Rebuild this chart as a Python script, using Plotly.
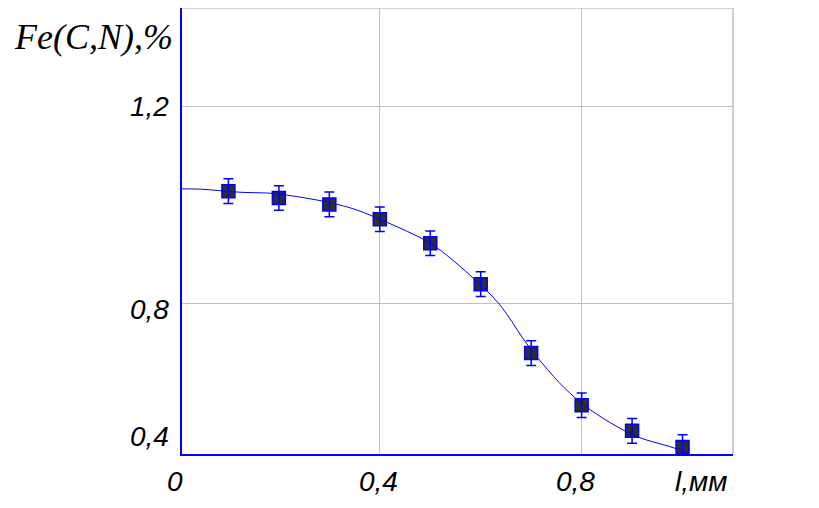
import plotly.graph_objects as go

# measured points
depth = [0.1, 0.2, 0.3, 0.4, 0.5, 0.6, 0.7, 0.8, 0.9, 1.0]
fe_cn = [1.029, 1.015, 1.002, 0.972, 0.923, 0.840, 0.700, 0.594, 0.542, 0.509]
err = [0.025, 0.025, 0.025, 0.025, 0.025, 0.025, 0.025, 0.025, 0.025, 0.025]

# fitted curve
curve_x = [0.0, 0.044, 0.123, 0.182, 0.208, 0.248, 0.301, 0.354, 0.406, 0.455,
           0.505, 0.578, 0.638, 0.683, 0.711, 0.756, 0.796, 0.842, 0.909, 0.974, 1.014]
curve_y = [1.0335, 1.033, 1.0268, 1.0248, 1.0219, 1.0158, 1.0057, 0.9909, 0.9691, 0.947,
           0.9198, 0.8589, 0.798, 0.731, 0.693, 0.6396, 0.6016, 0.5679, 0.5306, 0.5103, 0.4968]

x_tick_text = ["0", "0,4", "0,8", "l,мм"]
y_tick_text = ["0,4", "0,8", "1,2"]
y_title = "Fe(C,N),%"

BLUE = "#0000ff"
GRID = "#c0c0c0"
TICKFONT = dict(family="Liberation Sans, Arial, sans-serif", size=28, color="black", style="italic")

# the page has an 8 px body margin; offsets below are in page pixels
OFF = 8
FW, FH = 819 - OFF, 508 - OFF

fig = go.Figure()
fig.add_trace(go.Scatter(
    x=depth, y=fe_cn, mode="markers",
    marker=dict(symbol="square", size=13, color="#2e2e2e", line=dict(color=BLUE, width=1.5)),
    showlegend=False, cliponaxis=True))
fig.add_trace(go.Scatter(
    x=curve_x, y=curve_y, mode="lines", line=dict(color=BLUE, width=1, shape="spline"),
    showlegend=False))
fig.add_trace(go.Scatter(
    x=depth, y=fe_cn, mode="markers", marker=dict(size=1, opacity=0),
    error_y=dict(type="data", array=err, visible=True, color=BLUE, thickness=1.5, width=5),
    showlegend=False, cliponaxis=True))

L, R, T, B = 182, 733, 8, 454
W, H = R - L, B - T

def px(xp):
    return (xp - L) / W

def py(yp):
    return (B - yp) / H

ann = []
for txt, ypix in zip(y_tick_text, [436, 309, 107]):
    ann.append(dict(x=px(171), y=py(ypix), xref="paper", yref="paper", text=txt,
                    showarrow=False, xanchor="right", yanchor="middle", font=dict(**TICKFONT)))
for txt, xpix, anchor in zip(x_tick_text, [175, 378, 575, 673], ["center", "center", "center", "left"]):
    ann.append(dict(x=px(xpix), y=py(481), xref="paper", yref="paper", text=txt,
                    showarrow=False, xanchor=anchor, yanchor="middle", font=dict(**TICKFONT)))
ann.append(dict(x=px(12), y=py(37), xref="paper", yref="paper", text=y_title,
                showarrow=False, xanchor="left", yanchor="middle",
                font=dict(family="Liberation Serif, Times New Roman, serif", size=36,
                          color="black", style="italic")))

fig.update_layout(
    width=FW, height=FH,
    margin=dict(l=L - OFF, r=819 - R, t=T - OFF, b=508 - B, pad=0),
    paper_bgcolor="white", plot_bgcolor="white",
    annotations=ann,
    shapes=[
        dict(type="line", xref="paper", yref="paper", x0=0, x1=1, y0=1, y1=1, line=dict(color=GRID, width=1.5)),
        dict(type="line", xref="paper", yref="paper", x0=1, x1=1, y0=0, y1=1, line=dict(color=GRID, width=1.5)),
    ],
)
fig.update_xaxes(range=[0.008, 1.1], tickvals=[0.4, 0.8], showticklabels=False, ticks="",
                 showgrid=True, gridcolor=GRID, gridwidth=1, zeroline=False,
                 showline=True, linecolor=BLUE, linewidth=1.5)
fig.update_yaxes(range=[0.495, 1.401], tickvals=[0.8, 1.2], showticklabels=False, ticks="",
                 showgrid=True, gridcolor=GRID, gridwidth=1, zeroline=False,
                 showline=True, linecolor=BLUE, linewidth=1.5)

fig.write_html("out.html")
